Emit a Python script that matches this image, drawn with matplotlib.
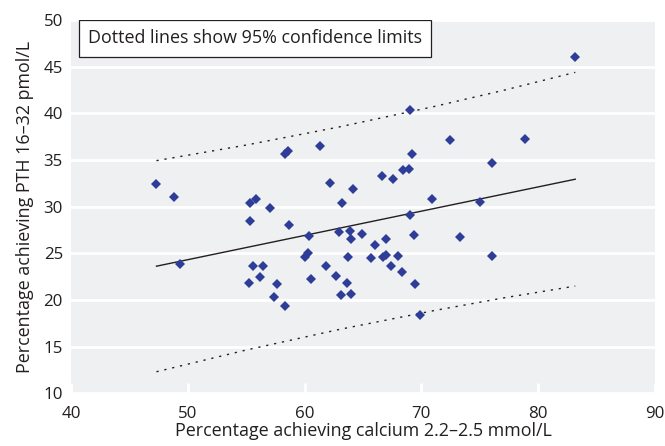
import matplotlib
matplotlib.use("Agg")
import matplotlib.pyplot as plt
from matplotlib.patches import Rectangle

# Data
calcium_pct = [47.3, 48.8, 49.3, 55.3, 55.8, 55.3, 55.6, 56.4, 56.15, 55.25,
               57.05, 58.65, 57.6, 57.35, 58.3, 58.3, 58.6, 61.35, 62.15, 64.15,
               63.2, 60.35, 62.95, 63.9, 63.95, 64.95, 66.05, 65.7, 63.75, 60.0,
               60.25, 61.8, 62.7, 63.65, 60.55, 63.1, 64.0, 69.0, 72.45, 69.2,
               66.65, 67.6, 68.45, 68.95, 70.95, 69.05, 69.35, 73.35, 67.0, 66.7,
               66.95, 68.0, 67.4, 68.35, 69.5, 69.85, 83.15, 78.9, 76.05, 75.05,
               76.05]
pth_pct = [32.4, 31.0, 23.9, 30.4, 30.8, 28.5, 23.65, 23.65, 22.45, 21.8,
           29.85, 28.05, 21.7, 20.3, 19.35, 35.65, 36.0, 36.5, 32.55, 31.85,
           30.4, 26.85, 27.25, 27.4, 26.55, 27.05, 25.9, 24.5, 24.6, 24.65,
           25.0, 23.6, 22.6, 21.8, 22.25, 20.5, 20.6, 40.35, 37.1, 35.6,
           33.3, 32.95, 33.95, 34.05, 30.8, 29.1, 26.95, 26.8, 26.55, 24.65,
           24.8, 24.7, 23.65, 23.05, 21.7, 18.4, 46.0, 37.2, 34.7, 30.55,
           24.75]

# Regression line end points
fit_x = [47.3, 83.2]
fit_y = [23.62, 32.94]

# Confidence limit lines
ci_x = [47.3, 55, 63, 71, 77, 83.2]
ci_upper = [34.93, 36.60, 38.55, 40.70, 42.45, 44.39]
ci_lower = [12.31, 14.64, 16.85, 18.84, 20.21, 21.49]

x_ticks = [40, 50, 60, 70, 80, 90]
y_ticks = [10, 15, 20, 25, 30, 35, 40, 45, 50]

note_text = 'Dotted lines show 95% confidence limits'
x_label = 'Percentage achieving calcium 2.2\u20132.5 mmol/L'
y_label = 'Percentage achieving PTH 16\u201332 pmol/L'

plt.rcParams['font.family'] = ['Open Sans', 'DejaVu Sans']
TXT = '#231f20'

fig = plt.figure(figsize=(6.65, 4.46), dpi=100)
ax = fig.add_axes([71.3 / 665, (446 - 393.3) / 446, 583.3 / 665, 373.3 / 446])
ax.set_facecolor('#eff0f2')

ax.set_xlim(40, 90)
ax.set_ylim(10, 50)
ax.set_xticks(x_ticks)
ax.set_yticks(y_ticks)
ax.tick_params(axis='x', direction='in', color='white', length=7, width=2,
               labelsize=12.2, pad=9, labelcolor=TXT)
ax.tick_params(axis='y', length=0, labelsize=12.2, pad=6, labelcolor=TXT)
for s in ax.spines.values():
    s.set_visible(False)
ax.yaxis.grid(True, color='white', linewidth=2)
ax.set_axisbelow(True)

ax.plot(fit_x, fit_y, color=TXT, linewidth=1.0, zorder=2)
ax.plot(ci_x, ci_upper, color=TXT, linewidth=1.0, linestyle=(0, (1.6, 4.2)), zorder=2)
ax.plot(ci_x, ci_lower, color=TXT, linewidth=1.0, linestyle=(0, (1.6, 4.2)), zorder=2)

ax.plot(calcium_pct, pth_pct, linestyle='none', marker='D', markersize=5.4,
        color='#2e3d98', markeredgewidth=0, zorder=3)

ax.set_xlabel(x_label, fontsize=12.9, color=TXT, labelpad=0.5)
ax.set_ylabel(y_label, fontsize=12.9, color=TXT)
ax.yaxis.set_label_coords(-0.064, 0.5)

ax.add_patch(Rectangle((0.0132, 0.9009), 0.6035, 0.0991, transform=ax.transAxes,
                       facecolor='white', edgecolor=TXT, linewidth=0.9, zorder=4))
ax.text(0.315, 0.951, note_text, transform=ax.transAxes,
        fontsize=12.9, color=TXT, va='center', ha='center', zorder=5)

fig.savefig('out.png', dpi=100)
